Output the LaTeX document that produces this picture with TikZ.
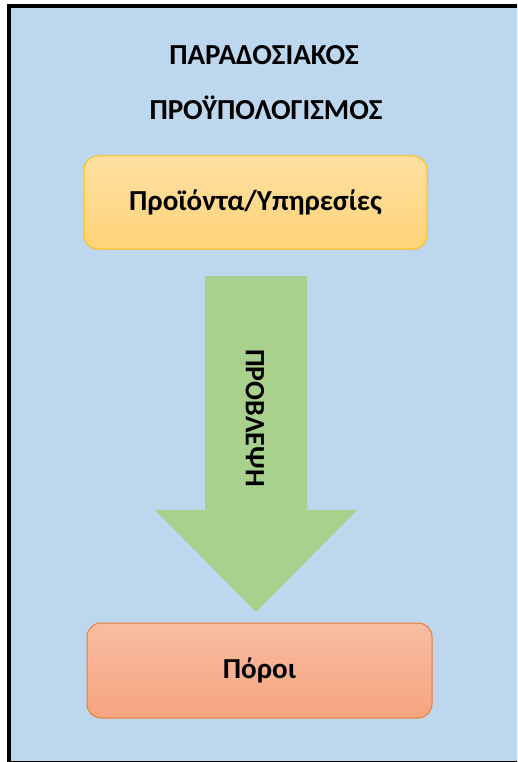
\documentclass[tikz,border=0pt]{standalone}
\usepackage{fontspec}
\setmainfont{Carlito}
\usetikzlibrary{calc}
\definecolor{panelblue}{HTML}{BDD7EE}
\definecolor{arrowgreen}{HTML}{A9D18E}
\definecolor{goldtop}{HTML}{FFE0A3}
\definecolor{goldbot}{HTML}{FFD478}
\definecolor{goldline}{HTML}{FFC000}
\definecolor{salmontop}{HTML}{F8BDA2}
\definecolor{salmonbot}{HTML}{F5A47F}
\definecolor{salmonline}{HTML}{ED7D31}
\tikzset{
  x=1pt, y=-1pt,
  bigbold/.style={font=\fontsize{29}{34}\selectfont\bfseries, text=black},
  heading/.style={bigbold},
  stagebox/.style={bigbold, rounded corners=14pt, line width=1pt, minimum width=343pt},
}
\begin{document}
\begin{tikzpicture}
  \useasboundingbox (0,0) rectangle (517,762);
  \clip (0,0) rectangle (517,762);
  % outer panel
  \draw[line width=4pt, fill=panelblue] (9,6) rectangle (530,763);
  % title
  \node[heading] (t1) at (264,55) {ΠΑΡΑΔΟΣΙΑΚΟΣ};
  \node[heading] (t2) at (266,108) {ΠΡΟΫΠΟΛΟΓΙΣΜΟΣ};
  % products / services box
  \node[stagebox, draw=goldline, top color=goldtop, bottom color=goldbot,
        minimum height=93pt] (prod) at (255.5,202.5) {Προϊόντα/Υπηρεσίες};
  % forecast arrow
  \fill[arrowgreen] (205,276) -- (307,276) -- (307,510) -- (357,510)
     -- (256,612) -- (155,510) -- (205,510) -- cycle;
  \node[font=\fontsize{28}{32}\selectfont\bfseries, rotate=-90] (fc) at (255,418) {ΠΡΟΒΛΕΨΗ};
  % resources box
  \node[stagebox, draw=salmonline, top color=salmontop, bottom color=salmonbot,
        minimum width=345pt, minimum height=95pt] (res) at (259.5,670.5) {Πόροι};
\end{tikzpicture}
\end{document}
